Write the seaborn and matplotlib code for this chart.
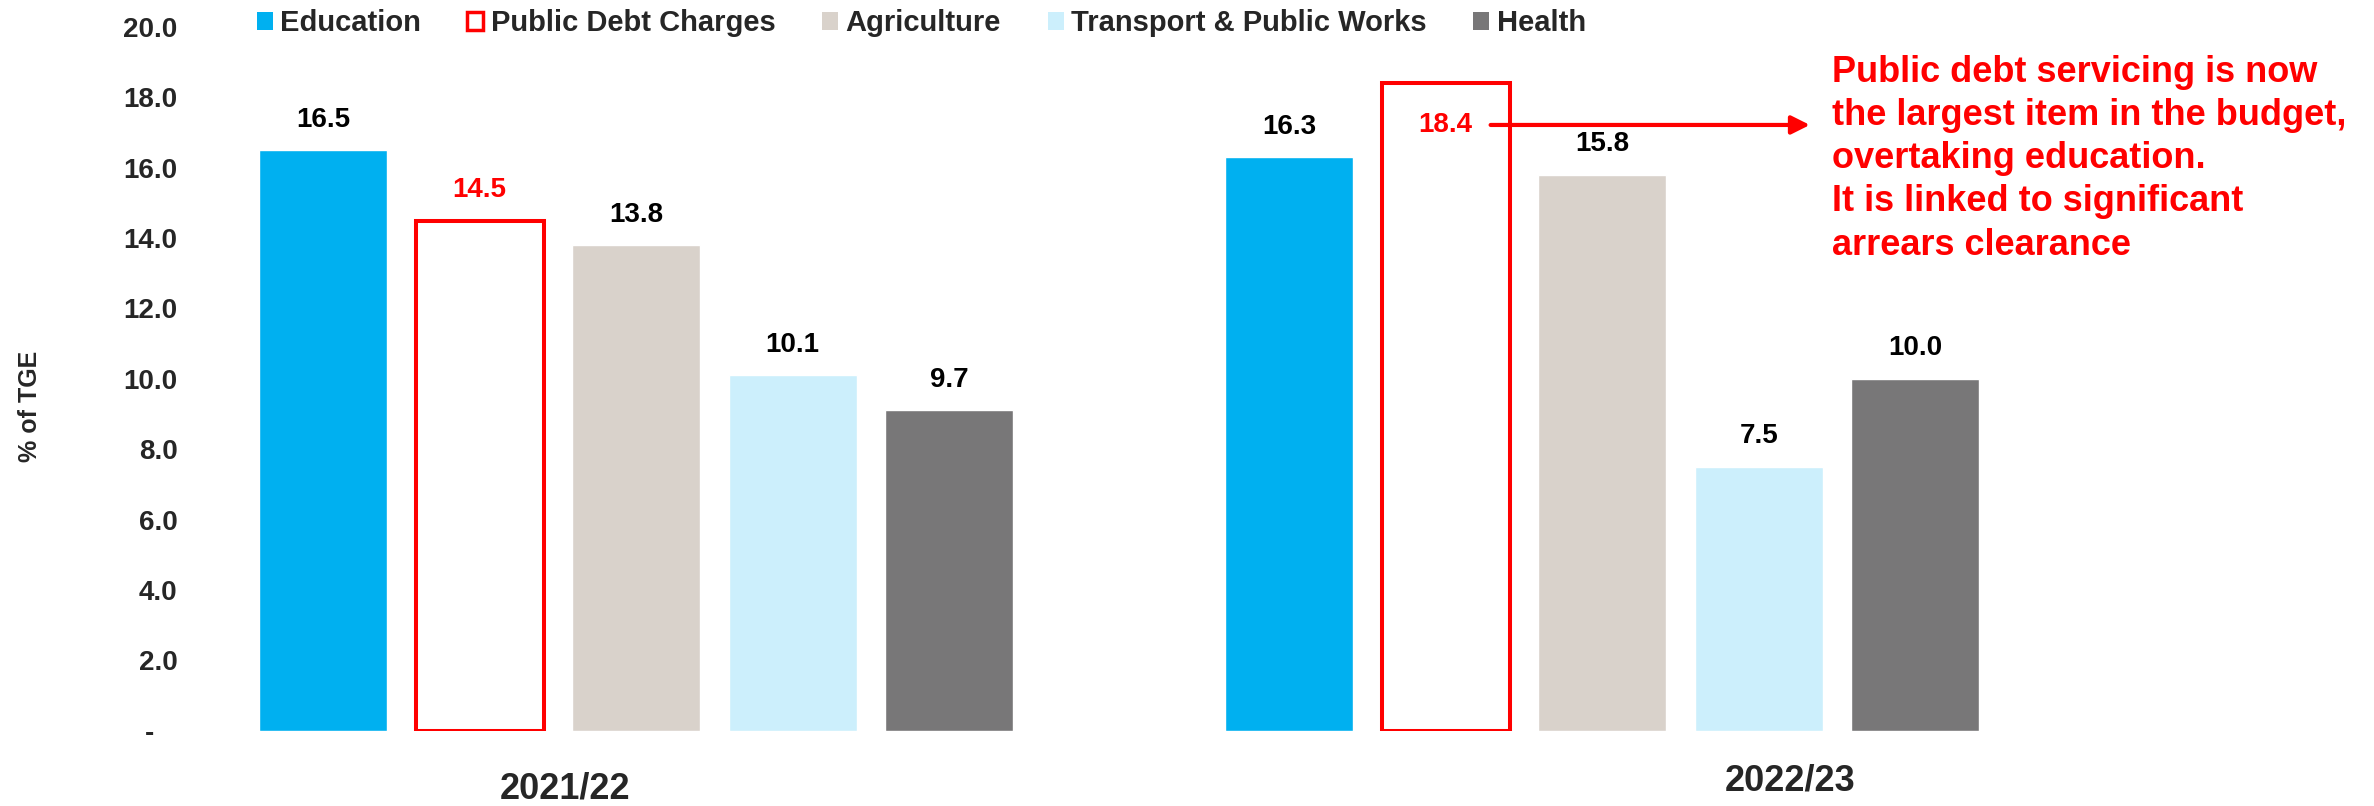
import pandas as pd
import matplotlib
matplotlib.use('Agg')
import matplotlib.pyplot as plt
from matplotlib.patches import Patch
import seaborn as sns

# Chart data
years = ['2021/22', '2022/23']
items = ['Education', 'Public Debt Charges', 'Agriculture', 'Transport & Public Works', 'Health']
share_2021 = [16.5, 14.5, 13.8, 10.1, 9.1]
share_2022 = [16.3, 18.4, 15.8, 7.5, 10.0]
labels_2021 = ['16.5', '14.5', '13.8', '10.1', '9.7']
labels_2022 = ['16.3', '18.4', '15.8', '7.5', '10.0']
y_ticks = [0, 2, 4, 6, 8, 10, 12, 14, 16, 18, 20]
note = ('Public debt servicing is now\nthe largest item in the budget,\n'
        'overtaking education.\nIt is linked to significant\narrears clearance')

colors = ['#00B0F0', '#FFFFFF', '#D9D2CB', '#CCEFFC', '#787778']
red = '#FF0000'

sns.set_style('white')
plt.rcParams['font.family'] = ['Liberation Sans', 'DejaVu Sans']
plt.rcParams['font.weight'] = 'bold'

df = pd.DataFrame({
    'Year': [years[0]] * len(items) + [years[1]] * len(items),
    'Item': items * 2,
    'Share': share_2021 + share_2022,
})

fig = plt.figure(figsize=(23.74, 8.06), dpi=100)
ax = fig.add_axes([0.08, 0.0935, 0.92, 0.873])

sns.barplot(data=df, x='Year', y='Share', hue='Item', hue_order=items,
            palette=colors, width=0.81, gap=0.18, legend=False, ax=ax,
            saturation=1, errorbar=None)

# Public debt bars: white fill with red outline
debt_bars = ax.containers[1]
for bar in debt_bars:
    bar.set_edgecolor(red)
    bar.set_linewidth(2.9)
    bar.set_facecolor('white')

# Value labels
all_labels = [labels_2021, labels_2022]
inside_off = -30
for i, cont in enumerate(ax.containers):
    for j, bar in enumerate(cont):
        txt = all_labels[j][i]
        col = red if i == 1 else 'black'
        x = bar.get_x() + bar.get_width() / 2
        off = 22
        if i == 1 and j == 1:
            off = inside_off
        ax.annotate(txt, (x, bar.get_height()), xytext=(0, off), textcoords='offset points',
                    ha='center', va='center', fontsize=20, fontweight='bold',
                    color=col)

# Arrow from the 18.4 label to the note
b = debt_bars[1]
units_per_pt = 20 / (0.873 * 8.06 * 72)
y_arrow = b.get_height() + inside_off * units_per_pt
ax.annotate('', xy=(1.215, y_arrow), xytext=(b.get_x() + b.get_width() * 0.85, y_arrow),
            arrowprops=dict(arrowstyle='-|>,head_length=1.1,head_width=0.55',
                            color=red, lw=3, shrinkA=0, shrinkB=0))
ax.text(1.2375, 19.2, note, color=red, fontsize=26, fontweight='bold',
        ha='left', va='top', linespacing=1.3)

ax.set_ylim(0, 20)
ax.set_xlim(-0.462, 1.799)
ax.set_yticks(y_ticks)
ax.set_yticklabels(['-   ' if v == 0 else f'{v:.1f}' for v in y_ticks],
                   fontsize=20, fontweight='bold')
ax.tick_params(axis='y', length=0, pad=9)
ax.set_xticks([])
ax.set_xlabel('')
ax.set_ylabel('')
for s in ax.spines.values():
    s.set_visible(False)

fig.text(0.0127, 0.496, '% of TGE', rotation=90, ha='center', va='center',
         fontsize=18, fontweight='bold')
fig.text(0.238, 0.021, years[0], ha='center', va='center', fontsize=26, fontweight='bold')
fig.text(0.754, 0.031, years[1], ha='center', va='center', fontsize=26, fontweight='bold')

handles = []
for item, c in zip(items, colors):
    if item == 'Public Debt Charges':
        handles.append(Patch(facecolor='white', edgecolor=red, linewidth=2.5))
    else:
        handles.append(Patch(facecolor=c, edgecolor='none'))
fig.legend(handles, items, loc='center', bbox_to_anchor=(0.388, 0.971), ncol=5,
           frameon=False, fontsize=21, handlelength=0.55, handleheight=0.55,
           handletextpad=0.25, columnspacing=1.6, borderpad=0)

fig.savefig('out.png', dpi=100)
